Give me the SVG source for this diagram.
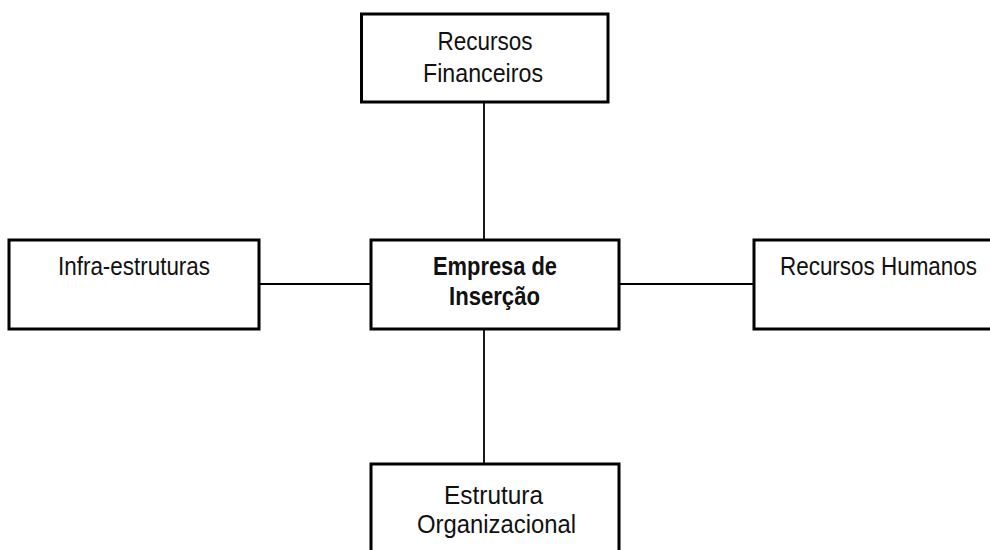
<svg xmlns="http://www.w3.org/2000/svg" width="990" height="550" viewBox="0 0 990 550">
<style>
.box{fill:#fff;stroke:#000;stroke-width:3}
.ln{stroke:#000;stroke-width:1.8;fill:none}
.t{font-family:"Liberation Sans Narrow","Arial Narrow","Liberation Sans",Arial,sans-serif;font-size:26px;fill:#111;text-anchor:middle}
.b{font-weight:bold;font-size:25px}
</style>
<rect width="990" height="550" fill="#fff"/>
<g id="connectors">
<line class="ln" x1="484" y1="102" x2="484" y2="240"/>
<line class="ln" x1="259" y1="284" x2="371" y2="284"/>
<line class="ln" x1="619" y1="284" x2="754" y2="284"/>
<line class="ln" x1="484" y1="329" x2="484" y2="464"/>
</g>
<g id="recursos-financeiros">
<rect class="box" x="361.5" y="14" width="246.5" height="88"/>
<text class="t" x="485" y="50" textLength="95" lengthAdjust="spacingAndGlyphs">Recursos</text>
<text class="t" x="483" y="82" textLength="120" lengthAdjust="spacingAndGlyphs">Financeiros</text>
</g>
<g id="infra-estruturas">
<rect class="box" x="9" y="240" width="250" height="89"/>
<text class="t" x="134" y="275" textLength="152" lengthAdjust="spacingAndGlyphs">Infra-estruturas</text>
</g>
<g id="empresa-de-insercao">
<rect class="box" x="371" y="240" width="248" height="89"/>
<text class="t b" x="495" y="275" textLength="124" lengthAdjust="spacingAndGlyphs">Empresa de</text>
<text class="t b" x="494.5" y="305" textLength="91" lengthAdjust="spacingAndGlyphs">Inserção</text>
</g>
<g id="recursos-humanos">
<rect class="box" x="754" y="240" width="250" height="89"/>
<text class="t" x="878.5" y="275" textLength="197" lengthAdjust="spacingAndGlyphs">Recursos Humanos</text>
</g>
<g id="estrutura-organizacional">
<rect class="box" x="371" y="464" width="248" height="100"/>
<text class="t" x="493.5" y="504" textLength="99" lengthAdjust="spacingAndGlyphs">Estrutura</text>
<text class="t" x="496.5" y="533" textLength="159" lengthAdjust="spacingAndGlyphs">Organizacional</text>
</g>
</svg>
